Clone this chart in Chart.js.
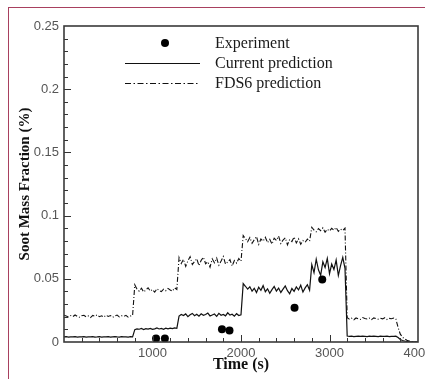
<!DOCTYPE html>
<html>
<head>
<meta charset="utf-8">
<script src="https://cdn.jsdelivr.net/npm/chart.js@4.4.0/dist/chart.umd.min.js"></script>
<style>
  body { margin: 0; background: #fff; }
  #wrap { position: relative; width: 425px; height: 379px; overflow: hidden; }
  #frame { position: absolute; left: 8px; top: 7px; width: 440px; height: 400px; border-left: 1px solid #a8405f; border-top: 1px solid #a8405f; }
  canvas { position: absolute; left: 0; top: 0; }
</style>
</head>
<body>
<div id="wrap">
  <div id="frame"></div>
  <canvas id="myChart" width="425" height="379"></canvas>
</div>
<script>
// time axis (s)
const times = [
  0,25,50,75,100,125,150,175,200,225,250,275,300,325,350,375,400,425,450,475,500,525,550,575,600,625,650,675,700,725,750,775,
  800,825,850,875,900,925,950,975,1000,1025,1050,1075,1100,1125,1150,1175,1200,1225,1250,1275,
  1300,1325,1350,1375,1400,1425,1450,1475,1500,1525,1550,1575,1600,1625,1650,1675,1700,1725,1750,1775,1800,1825,1850,1875,1900,1925,1950,1975,2000,
  2025,2050,2075,2100,2125,2150,2175,2200,2225,2250,2275,2300,2325,2350,2375,2400,2425,2450,2475,2500,2525,2550,2575,2600,2625,2650,2675,2700,2725,2750,2775,
  2800,2825,2850,2875,2900,2925,2950,2975,3000,3025,3050,3075,3100,3125,3150,3175,
  3200,3225,3250,3275,3300,3325,3350,3375,3400,3425,3450,3475,3500,3525,3550,3575,3600,3625,3650,3675,3700,3725,3750,
  3775,3800,3825,3850,3875,3900,3925,3950,3975,4000
];

// current prediction (%)
const currentVals = [
  0.0040,0.0042,0.0039,0.0041,0.0040,0.0043,0.0038,0.0041,
  0.0040,0.0042,0.0039,0.0041,0.0040,0.0043,0.0039,0.0040,
  0.0042,0.0038,0.0041,0.0040,0.0042,0.0039,0.0041,0.0043,
  0.0040,0.0039,0.0042,0.0040,0.0041,0.0038,0.0042,0.0041,
  0.0098,0.0104,0.0101,0.0107,0.0099,0.0105,0.0102,0.0108,0.0100,0.0104,
  0.0111,0.0103,0.0107,0.0101,0.0109,0.0104,0.0110,0.0106,0.0112,0.0108,
  0.0205,0.0218,0.0209,0.0222,0.0201,0.0215,0.0226,0.0208,
  0.0219,0.0204,0.0223,0.0211,0.0217,0.0229,0.0206,0.0214,
  0.0221,0.0203,0.0227,0.0212,0.0218,0.0207,0.0231,0.0213,
  0.0220,0.0205,0.0224,0.0210,0.0216,
  0.0462,0.0441,0.0418,0.0437,0.0402,0.0425,0.0391,0.0433,
  0.0409,0.0446,0.0398,0.0421,0.0385,0.0414,0.0439,0.0403,
  0.0427,0.0392,0.0418,0.0444,0.0406,0.0381,0.0423,0.0401,
  0.0436,0.0412,0.0449,0.0395,0.0428,0.0453,0.0410,
  0.0612,0.0548,0.0655,0.0571,0.0528,0.0634,0.0589,0.0662,
  0.0541,0.0617,0.0573,0.0648,0.0526,0.0604,0.0669,0.0583,
  0.0047,0.0044,0.0046,0.0043,0.0045,0.0047,0.0044,0.0046,
  0.0045,0.0043,0.0046,0.0044,0.0047,0.0045,0.0043,0.0046,
  0.0044,0.0045,0.0047,0.0043,0.0045,0.0044,0.0046,
  0.0035,0.0020,0.0012,0.0008,0.0005,0.0003,0.0002,0.0001,0,0
];

// FDS6 prediction (%)
const fdsVals = [
  0.0212,0.0205,0.0198,0.0209,0.0201,0.0214,0.0203,0.0196,
  0.0208,0.0211,0.0199,0.0206,0.0193,0.0210,0.0204,0.0215,
  0.0200,0.0207,0.0197,0.0212,0.0202,0.0209,0.0195,0.0206,
  0.0213,0.0199,0.0208,0.0203,0.0211,0.0197,0.0205,0.0210,
  0.0452,0.0418,0.0402,0.0425,0.0396,0.0411,0.0429,0.0403,
  0.0415,0.0394,0.0421,0.0407,0.0399,0.0418,0.0406,0.0424,
  0.0411,0.0402,0.0428,0.0416,
  0.0668,0.0621,0.0654,0.0598,0.0642,0.0675,0.0613,0.0637,
  0.0659,0.0604,0.0646,0.0671,0.0619,0.0635,0.0592,0.0658,
  0.0627,0.0664,0.0608,0.0641,0.0677,0.0616,0.0633,0.0652,
  0.0601,0.0645,0.0624,0.0661,0.0638,
  0.0842,0.0818,0.0793,0.0826,0.0781,0.0809,0.0834,0.0772,
  0.0815,0.0798,0.0829,0.0786,0.0812,0.0775,0.0821,0.0803,
  0.0838,0.0779,0.0807,0.0824,0.0769,0.0811,0.0795,0.0831,
  0.0784,0.0816,0.0773,0.0802,0.0789,0.0814,0.0797,
  0.0908,0.0886,0.0872,0.0897,0.0881,0.0903,0.0869,0.0892,
  0.0878,0.0899,0.0884,0.0906,0.0875,0.0893,0.0882,0.0901,
  0.0192,0.0181,0.0188,0.0176,0.0190,0.0184,0.0179,0.0193,
  0.0186,0.0182,0.0189,0.0177,0.0191,0.0185,0.0180,0.0188,
  0.0183,0.0192,0.0178,0.0187,0.0184,0.0190,0.0181,
  0.0115,0.0062,0.0038,0.0024,0.0014,0.0008,0.0004,0.0002,0,0
];

// experiment
const expTimes = [1040, 1140, 1785, 1870, 2605, 2918];
const expVals = [0.0028, 0.0028, 0.0100, 0.0090, 0.0270, 0.0495];

const xTicks = [1000, 2000, 3000, 4000];
const yTicks = [0, 0.05, 0.1, 0.15, 0.2, 0.25];

const toXY = (xs, ys) => xs.map((t, i) => ({ x: t, y: ys[i] }));

// frame, inward ticks and the legend inside the plot
const frameTicks = {
  id: "frameTicks",
  afterDraw(chart) {
    const { ctx, chartArea: a, scales } = chart;
    const x = scales.x, y = scales.y;
    ctx.save();
    ctx.strokeStyle = "#333";
    ctx.lineWidth = 1;
    ctx.beginPath();
    for (let v = 200; v < 4000; v += 200) {
      let px = Math.round(x.getPixelForValue(v)) + 0.5;
      let len = v % 1000 === 0 ? 7 : 4;
      ctx.moveTo(px, a.bottom);
      ctx.lineTo(px, a.bottom - len);
    }
    for (let i = 1; i < 25; i++) {
      let py = Math.round(y.getPixelForValue(i / 100)) + 0.5;
      let len = i % 5 === 0 ? 7 : 4;
      ctx.moveTo(a.left, py);
      ctx.lineTo(a.left + len, py);
    }
    ctx.stroke();

    ctx.strokeStyle = "#3a3a3a";
    ctx.lineWidth = 1.6;
    ctx.strokeRect(a.left, a.top, a.right - a.left, a.bottom - a.top);

    // legend
    let ds = chart.data.datasets;
    ctx.font = "16px 'Liberation Serif', 'Times New Roman', serif";
    ctx.fillStyle = "#1a1a1a";
    ctx.textBaseline = "middle";
    ctx.fillText(ds[0].label, 215, 44);
    ctx.fillText(ds[1].label, 215, 64);
    ctx.fillText(ds[2].label, 215, 84);

    ctx.beginPath();
    ctx.arc(165, 43, 4, 0, Math.PI * 2);
    ctx.fillStyle = "#000";
    ctx.fill();

    ctx.strokeStyle = "#111";
    ctx.lineWidth = 1;
    ctx.beginPath();
    ctx.moveTo(125, 63.5);
    ctx.lineTo(200, 63.5);
    ctx.stroke();
    ctx.setLineDash([6, 2.5, 1.5, 2.5]);
    ctx.beginPath();
    ctx.moveTo(125, 83.5);
    ctx.lineTo(200, 83.5);
    ctx.stroke();
    ctx.restore();
  },
};

const ctx = document.getElementById("myChart").getContext("2d");

new Chart(ctx, {
  type: "scatter",
  data: {
    datasets: [
      {
        label: "Experiment",
        data: toXY(expTimes, expVals),
        showLine: false,
        pointRadius: 4,
        pointBackgroundColor: "#000",
        pointBorderWidth: 0,
      },
      {
        label: "Current prediction",
        data: toXY(times, currentVals),
        showLine: true,
        borderColor: "#111",
        borderWidth: 1.2,
        pointRadius: 0,
        tension: 0,
      },
      {
        label: "FDS6 prediction",
        data: toXY(times, fdsVals),
        showLine: true,
        borderColor: "#111",
        borderWidth: 1.1,
        borderDash: [5, 2, 1, 2],
        pointRadius: 0,
        tension: 0,
      },
    ],
  },
  options: {
    responsive: false,
    animation: false,
    layout: { padding: { top: 26, right: 7, bottom: 0, left: 0 } },
    plugins: {
      legend: { display: false }, // drawn by frameTicks
      tooltip: { enabled: false },
    },
    scales: {
      x: {
        type: "linear",
        min: 0,
        max: 4000,
        afterBuildTicks: (s) => { s.ticks = xTicks.map((v) => ({ value: v })); },
        afterFit: (s) => { s.height = 37; s.paddingLeft = 0; s.paddingRight = 0; },
        grid: { display: false, drawTicks: false },
        border: { display: false },
        ticks: {
          padding: 4,
          maxRotation: 0,
          autoSkip: false,
          color: "#555",
          font: { family: "'Liberation Sans', Arial, sans-serif", size: 13 },
          callback: (v) => String(v),
        },
        title: {
          display: true,
          text: "Time (s)",
          color: "#111",
          padding: { top: 0, bottom: 5 },
          font: { family: "'Liberation Serif', 'Times New Roman', serif", size: 16, weight: "bold" },
        },
      },
      y: {
        min: 0,
        max: 0.25,
        afterBuildTicks: (s) => { s.ticks = yTicks.map((v) => ({ value: v })); },
        afterFit: (s) => { s.width = 64; s.paddingTop = 0; s.paddingBottom = 0; },
        grid: { display: false, drawTicks: false },
        border: { display: false },
        ticks: {
          padding: 5,
          color: "#555",
          font: { family: "'Liberation Sans', Arial, sans-serif", size: 13 },
          callback: (v) => String(+v.toFixed(2)),
        },
        title: {
          display: true,
          text: "Soot Mass Fraction (%)",
          color: "#111",
          padding: { top: 16, bottom: 0 },
          font: { family: "'Liberation Serif', 'Times New Roman', serif", size: 15, weight: "bold" },
        },
      },
    },
  },
  plugins: [frameTicks],
});
</script>
</body>
</html>
